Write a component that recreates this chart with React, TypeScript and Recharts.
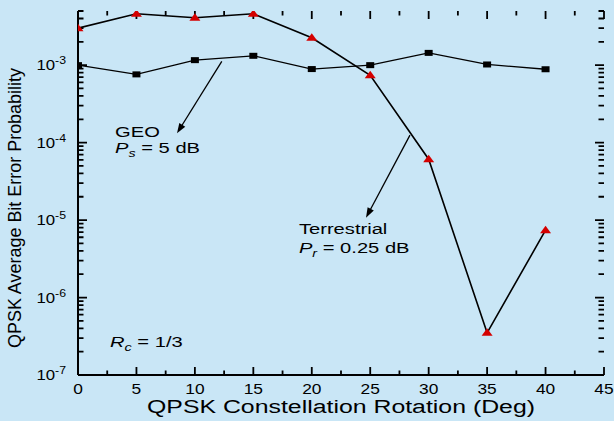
import React from 'react';
import { LineChart, Line, XAxis, YAxis, ReferenceLine, ReferenceDot } from 'recharts';

const rotations = [0, 5, 10, 15, 20, 25, 30, 35, 40];
const geoBer = [1.0e-3, 7.6e-4, 1.16e-3, 1.32e-3, 8.9e-4, 1.0e-3, 1.44e-3, 1.02e-3, 8.85e-4];
const terrestrialBer = [3.0e-3, 4.6e-3, 4.1e-3, 4.6e-3, 2.26e-3, 7.4e-4, 6.1e-5, 3.5e-7, 7.4e-6];

const xTicks = [0, 2.5, 5, 7.5, 10, 12.5, 15, 17.5, 20, 22.5, 25, 27.5, 30, 32.5, 35, 37.5, 40, 42.5, 45];
const xMajorStep = 5;
const yDecades = [-7, -6, -5, -4, -3];
const yMantissas = [1, 2, 3, 4, 5, 6, 7, 8, 9];
const yDomain: [number, number] = [1e-7, 5e-3];
const xDomain: [number, number] = [0, 45];

const xTitle = 'QPSK Constellation Rotation (Deg)';
const yTitle = 'QPSK Average Bit Error Probability';

const geoArrow = [{ x: 12.3, y: 1.12e-3 }, { x: 8.47, y: 1.32e-4 }];
const terArrow = [{ x: 28.4, y: 1.25e-4 }, { x: 24.64, y: 1.07e-5 }];
const geoLabelPos = { x: 3.17, y: 1.17e-4 };
const terLabelPos = { x: 18.9, y: 6.7e-6 };
const rcLabelPos = { x: 2.74, y: 2.3e-7 };

function isMajorY(v: number) {
  const l = Math.log10(v);
  return Math.abs(l - Math.round(l)) < 1e-6;
}
function isMajorX(v: number) {
  return Math.abs(v / xMajorStep - Math.round(v / xMajorStep)) < 1e-6;
}

const yTicks: number[] = [];
yDecades.forEach((e) => {
  yMantissas.forEach((m) => {
    const v = Number((m * Math.pow(10, e)).toPrecision(6));
    if (v <= yDomain[1] * 1.0000001) yTicks.push(v);
  });
});
const yMajorTicks = yTicks.filter((v) => isMajorY(v));
const xMajorTicks = xTicks.filter((v) => isMajorX(v));

const data = rotations.map((r, i) => ({ rot: r, geo: geoBer[i], ter: terrestrialBer[i] }));

const FONT = '"Liberation Sans", Arial, Helvetica, sans-serif';
const BG = '#c9e6f6';
const SX = 1.3;

const YTickLabel = (props: any) => {
  const { x, y, payload } = props;
  const v = payload.value;
  return (
    <g transform={`translate(${x - 12},${y + 5}) scale(1.12,1)`}>
      <text x={0} y={0} textAnchor="end" fontFamily={FONT} fontSize={15} fill="#000">
        <tspan>10</tspan>
        <tspan dy={-6} fontSize={11}>{`-${Math.abs(Math.round(Math.log10(v)))}`}</tspan>
      </text>
    </g>
  );
};

const XTickLabel = (props: any) => {
  const { x, y, payload } = props;
  return (
    <g transform={`translate(${x},${y + 19}) scale(1.12,1)`}>
      <text x={0} y={0} textAnchor="middle" fontFamily={FONT} fontSize={15.5} fill="#000">
        {String(payload.value)}
      </text>
    </g>
  );
};

const makeYTickShape = (len: number) => (p: any) => {
  const { x1, y1, x2, y2 } = p;
  if ([x1, y1, x2, y2].some((v) => v == null || isNaN(v))) return <g />;
  const left = Math.min(x1, x2);
  const right = Math.max(x1, x2);
  return (
    <path
      d={`M${left},${y1}L${left + len},${y1}M${right},${y2}L${right - len},${y2}`}
      stroke="#000"
      strokeWidth={1.8}
      fill="none"
    />
  );
};

const makeXTickShape = (len: number) => (p: any) => {
  const { x1, y1, x2, y2 } = p;
  if ([x1, y1, x2, y2].some((v) => v == null || isNaN(v))) return <g />;
  const top = Math.min(y1, y2);
  const bottom = Math.max(y1, y2);
  return (
    <path
      d={`M${x1},${bottom}L${x1},${bottom - len}M${x2},${top}L${x2},${top + len}`}
      stroke="#000"
      strokeWidth={1.8}
      fill="none"
    />
  );
};

const YMajorTick = makeYTickShape(9);
const YMinorTick = makeYTickShape(5.5);
const XMajorTick = makeXTickShape(8);
const XMinorTick = makeXTickShape(4.5);

const TriangleDot = (props: any) => {
  const { cx, cy, index } = props;
  if (cx == null || cy == null) return <g key={`t-${index}`} />;
  return (
    <polygon
      key={`t-${index}`}
      points={`${cx},${cy - 4.5} ${cx - 5.5},${cy + 3} ${cx + 5.5},${cy + 3}`}
      fill="#d40000"
      stroke="none"
    />
  );
};

const SquareDot = (props: any) => {
  const { cx, cy, index } = props;
  if (cx == null || cy == null) return <g key={`s-${index}`} />;
  return <rect key={`s-${index}`} x={cx - 4} y={cy - 3} width={8} height={6} fill="#000" />;
};

const Arrow = (p: any) => {
  const { x1, y1, x2, y2 } = p;
  if ([x1, y1, x2, y2].some((v) => v == null || isNaN(v))) return <g />;
  const ang = Math.atan2(y2 - y1, x2 - x1);
  const L = 10;
  const W = 3.5;
  const c = Math.cos(ang);
  const s = Math.sin(ang);
  const bx = x2 - L * c;
  const by = y2 - L * s;
  return (
    <g>
      <line x1={x1} y1={y1} x2={bx + 2 * c} y2={by + 2 * s} stroke="#000" strokeWidth={1.3} />
      <polygon points={`${x2},${y2} ${bx + W * s},${by - W * c} ${bx - W * s},${by + W * c}`} fill="#000" />
    </g>
  );
};

const Sub = ({ main, sub, rest }: { main: string; sub: string; rest: string }) => (
  <>
    <tspan fontStyle="italic">{main}</tspan>
    <tspan fontStyle="italic" fontSize={11} dy={4}>{sub}</tspan>
    <tspan dy={-4}>{rest}</tspan>
  </>
);

const GeoLabel = (p: any) => {
  const { cx, cy } = p;
  return (
    <g transform={`translate(${cx},${cy}) scale(${SX},1)`}>
      <text x={0} y={0} fontFamily={FONT} fontSize={15.5} fill="#000">GEO</text>
      <text x={0} y={16} fontFamily={FONT} fontSize={15.5} fill="#000">
        <Sub main="P" sub="s" rest=" = 5 dB" />
      </text>
    </g>
  );
};

const TerLabel = (p: any) => {
  const { cx, cy } = p;
  return (
    <g transform={`translate(${cx},${cy}) scale(${SX},1)`}>
      <text x={0} y={0} fontFamily={FONT} fontSize={15.5} fill="#000">Terrestrial</text>
      <text x={0} y={19} fontFamily={FONT} fontSize={15.5} fill="#000">
        <Sub main="P" sub="r" rest=" = 0.25 dB" />
      </text>
    </g>
  );
};

const RcLabel = (p: any) => {
  const { cx, cy } = p;
  return (
    <g transform={`translate(${cx},${cy}) scale(${SX},1)`}>
      <text x={0} y={0} fontFamily={FONT} fontSize={15.5} fill="#000">
        <Sub main="R" sub="c" rest=" = 1/3" />
      </text>
    </g>
  );
};

const XTitle = (props: any) => {
  const vb = props.viewBox || {};
  return (
    <text
      x={vb.x + vb.width / 2}
      y={vb.y + 38}
      textAnchor="middle"
      fontFamily={FONT}
      fontSize={18}
      textLength={388}
      lengthAdjust="spacingAndGlyphs"
      fill="#000"
    >
      {xTitle}
    </text>
  );
};

const YTitle = (props: any) => {
  const vb = props.viewBox || {};
  const cy = vb.y + vb.height / 2 + 15;
  return (
    <text
      transform="rotate(-90)"
      x={-cy}
      y={21}
      textAnchor="middle"
      fontFamily={FONT}
      fontSize={19}
      textLength={280}
      lengthAdjust="spacingAndGlyphs"
      fill="#000"
    >
      {yTitle}
    </text>
  );
};

export default function App() {
  return (
    <div style={{ position: 'absolute', left: 0, top: 0, width: 614, height: 421, background: BG }}>
      <LineChart width={614} height={421} data={data} margin={{ top: 11, right: 10, bottom: 0, left: 0 }}>
        <XAxis
          xAxisId="b"
          dataKey="rot"
          type="number"
          domain={xDomain}
          ticks={xMajorTicks}
          interval={0}
          height={46}
          tickSize={0}
          tickMargin={0}
          tickLine={false}
          axisLine={{ stroke: '#000', strokeWidth: 2 }}
          tick={<XTickLabel />}
          label={{ content: <XTitle /> }}
          allowDataOverflow
        />
        <XAxis
          xAxisId="t"
          orientation="top"
          type="number"
          domain={xDomain}
          height={0}
          tick={false}
          tickLine={false}
          axisLine={{ stroke: '#000', strokeWidth: 2 }}
          allowDataOverflow
        />
        <YAxis
          yAxisId="l"
          type="number"
          scale="log"
          domain={yDomain}
          ticks={yMajorTicks}
          interval={0}
          width={78}
          tickSize={0}
          tickMargin={0}
          tickLine={false}
          axisLine={{ stroke: '#000', strokeWidth: 2 }}
          tick={<YTickLabel />}
          label={{ content: <YTitle /> }}
          allowDataOverflow
        />
        <YAxis
          yAxisId="r"
          orientation="right"
          type="number"
          scale="log"
          domain={yDomain}
          width={0}
          tick={false}
          tickLine={false}
          axisLine={{ stroke: '#000', strokeWidth: 2 }}
          allowDataOverflow
        />
        {yTicks.map((v) => (
          <ReferenceLine
            key={`yt-${v}`}
            xAxisId="b"
            yAxisId="l"
            y={v}
            ifOverflow="visible"
            shape={isMajorY(v) ? YMajorTick : YMinorTick}
          />
        ))}
        {xTicks.map((v) => (
          <ReferenceLine
            key={`xt-${v}`}
            xAxisId="b"
            yAxisId="l"
            x={v}
            ifOverflow="visible"
            shape={isMajorX(v) ? XMajorTick : XMinorTick}
          />
        ))}
        <ReferenceLine xAxisId="b" yAxisId="l" segment={geoArrow} shape={Arrow} />
        <ReferenceLine xAxisId="b" yAxisId="l" segment={terArrow} shape={Arrow} />
        <ReferenceDot xAxisId="b" yAxisId="l" x={geoLabelPos.x} y={geoLabelPos.y} r={0} shape={GeoLabel} />
        <ReferenceDot xAxisId="b" yAxisId="l" x={terLabelPos.x} y={terLabelPos.y} r={0} shape={TerLabel} />
        <ReferenceDot xAxisId="b" yAxisId="l" x={rcLabelPos.x} y={rcLabelPos.y} r={0} shape={RcLabel} />
        <Line
          xAxisId="b"
          yAxisId="l"
          dataKey="geo"
          stroke="#000"
          strokeWidth={1.3}
          dot={SquareDot}
          activeDot={false}
          isAnimationActive={false}
        />
        <Line
          xAxisId="b"
          yAxisId="l"
          dataKey="ter"
          stroke="#000"
          strokeWidth={1.6}
          dot={TriangleDot}
          activeDot={false}
          isAnimationActive={false}
        />
      </LineChart>
    </div>
  );
}
